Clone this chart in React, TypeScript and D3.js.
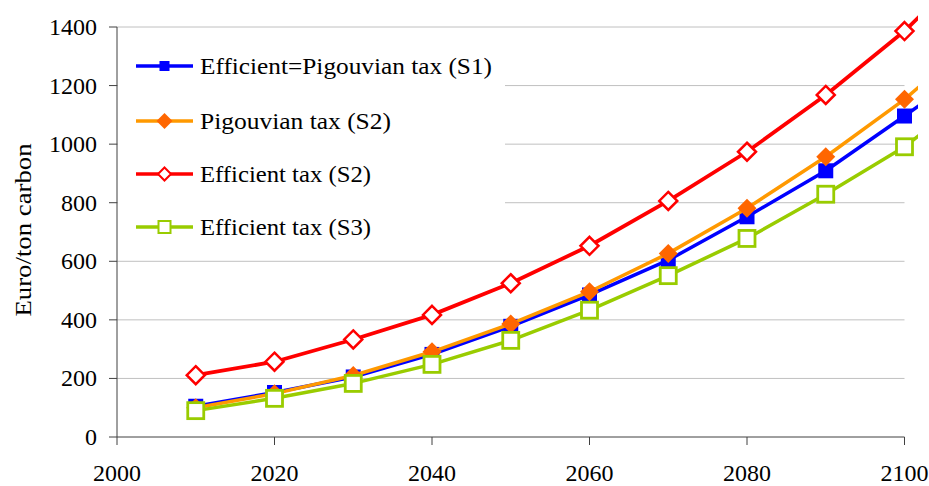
import React from "react";
import * as d3 from "d3";

const years = [2010, 2020, 2030, 2040, 2050, 2060, 2070, 2080, 2090, 2100, 2110];
const effPigS1 = [105, 152, 205, 282, 378, 485, 604, 752, 909, 1096, 1289];
const pigS2 = [100, 148, 210, 291, 386, 496, 627, 781, 957, 1153, 1385];
const effS2 = [211, 257, 333, 417, 525, 653, 806, 974, 1168, 1386, 1649];
const effS3 = [90, 132, 183, 248, 330, 433, 551, 678, 829, 991, 1199];

const yTicks = [0, 200, 400, 600, 800, 1000, 1200, 1400];
const xTicks = [2000, 2020, 2040, 2060, 2080, 2100];
const legendLabels = [
  "Efficient=Pigouvian tax (S1)",
  "Pigouvian tax (S2)",
  "Efficient tax (S2)",
  "Efficient tax (S3)",
];
const yLabel = "Euro/ton carbon";

type Marker = "square" | "diamond" | "odiamond" | "osquare";
const series = [
  { values: effPigS1, color: "#0000FF", fill: "#0000FF", marker: "square" as Marker },
  { values: pigS2, color: "#FF9900", fill: "#FF6600", marker: "diamond" as Marker },
  { values: effS2, color: "#FF0000", fill: "#FFFFFF", marker: "odiamond" as Marker },
  { values: effS3, color: "#99CC00", fill: "#FFFFFF", marker: "osquare" as Marker },
];

const W = 929;
const H = 486;
const x = d3.scaleLinear().domain([2000, 2100]).range([117, 904.5]);
const y = d3.scaleLinear().domain([0, 1400]).range([437, 27]);

function renderMarker(m: Marker, cx: number, cy: number, color: string, fill: string, legend: boolean, key?: any) {
  if (m === "square") {
    const s = legend ? 10 : 15;
    return <rect key={key} x={cx - s / 2} y={cy - s / 2} width={s} height={s} fill={fill} />;
  }
  if (m === "osquare") {
    const s = legend ? 12 : 16;
    return <rect key={key} x={cx - s / 2} y={cy - s / 2} width={s} height={s} fill="#fff" stroke={color} strokeWidth={legend ? 2 : 2.8} />;
  }
  if (m === "diamond") {
    const r = legend ? 8 : 9.5;
    return <path key={key} d={`M${cx},${cy - r}L${cx + r},${cy}L${cx},${cy + r}L${cx - r},${cy}Z`} fill={fill} />;
  }
  const r = legend ? 6.5 : 9;
  return <path key={key} d={`M${cx},${cy - r}L${cx + r},${cy}L${cx},${cy + r}L${cx - r},${cy}Z`} fill="#fff" stroke={color} strokeWidth={legend ? 2 : 2.5} />;
}

const FONT = "Liberation Serif";

export default function App() {
  const line = d3
    .line<number>()
    .x((_, i) => x(years[i]))
    .y((v) => y(v));
  const legendY = [66, 121, 174, 227];
  const legendW = [292, 191, 171, 171];
  return (
    <svg width={W} height={H} fontFamily={FONT} style={{ position: "absolute", left: 0, top: 0, background: "#fff" }}>
      <defs>
        <clipPath id="plotclip">
          <rect x={0} y={0} width={918} height={H} />
        </clipPath>
      </defs>
      {yTicks.filter((t) => t > 0).map((t) => (
        <line key={t} x1={117} x2={904.5} y1={y(t)} y2={y(t)} stroke="#C0C0C0" strokeWidth={1} />
      ))}
      <rect x={118} y={38} width={387} height={200} fill="#fff" />
      <line x1={117} x2={117} y1={y(1400)} y2={y(0)} stroke="#404040" strokeWidth={1} />
      <line x1={117} x2={904.5} y1={y(0)} y2={y(0)} stroke="#404040" strokeWidth={1} />
      {yTicks.map((t) => (
        <g key={t}>
          <line x1={109} x2={117} y1={y(t)} y2={y(t)} stroke="#404040" />
          <text x={97} y={y(t) + 8} textAnchor="end" fontSize={24} fontFamily={FONT} fill="#000">
            {t}
          </text>
        </g>
      ))}
      {xTicks.map((t) => (
        <g key={t}>
          <line x1={x(t)} x2={x(t)} y1={437} y2={445} stroke="#404040" />
          <text x={x(t)} y={481} textAnchor="middle" fontSize={24} fontFamily={FONT} fill="#000">
            {t}
          </text>
        </g>
      ))}
      <text
        transform={`translate(31,230) rotate(-90)`}
        textAnchor="middle"
        fontSize={24}
        fontFamily={FONT}
        textLength={173}
        lengthAdjust="spacingAndGlyphs"
        fill="#000"
      >
        {yLabel}
      </text>
      <g clipPath="url(#plotclip)">
        {series.map((s, si) => (
          <g key={si}>
            <path d={line(s.values) || ""} fill="none" stroke={s.color} strokeWidth={si === 2 ? 3.8 : 3.5} strokeLinejoin="round" />
            {s.values.map((v, i) =>
              years[i] <= 2100 ? renderMarker(s.marker, x(years[i]), y(v), s.color, s.fill, false, i) : null
            )}
          </g>
        ))}
      </g>
      {series.map((s, i) => (
        <g key={i}>
          <line x1={136} x2={193} y1={legendY[i]} y2={legendY[i]} stroke={s.color} strokeWidth={3.5} />
          {renderMarker(s.marker, 164.5, legendY[i], s.color, s.fill, true)}
          <text
            x={200}
            y={legendY[i] + 8}
            fontSize={24}
            fontFamily={FONT}
            textLength={legendW[i]}
            lengthAdjust="spacingAndGlyphs"
            fill="#000"
          >
            {legendLabels[i]}
          </text>
        </g>
      ))}
    </svg>
  );
}
